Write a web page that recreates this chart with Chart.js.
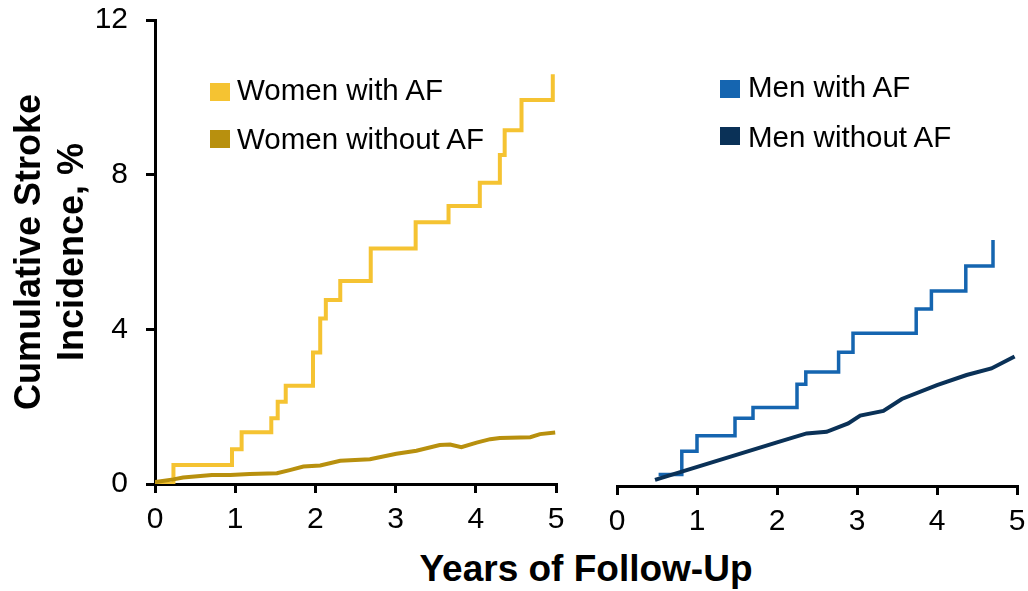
<!DOCTYPE html>
<html>
<head>
<meta charset="utf-8">
<script src="https://cdn.jsdelivr.net/npm/chart.js@4.4.1/dist/chart.umd.min.js"></script>
<style>
  body { margin: 0; background: #fff; width: 1028px; height: 591px; overflow: hidden; position: relative;
         font-family: "Liberation Sans", Arial, sans-serif; }
  #leftBox { position: absolute; left: 0; top: 0; width: 580px; height: 540px; }
  #rightBox { position: absolute; left: 580px; top: 0; width: 448px; height: 540px; }
  .leg { position: absolute; font-size: 29.5px; line-height: 1; color: #000; white-space: nowrap; }
  .sw { position: absolute; width: 20px; height: 18px; }
  #xTitle { position: absolute; left: 386px; width: 400px; top: 550px; text-align: center;
            font-weight: bold; font-size: 37px; line-height: 1; color: #000; }
</style>
</head>
<body>
<div id="leftBox"><canvas id="left"></canvas></div>
<div id="rightBox"><canvas id="right"></canvas></div>

<div class="sw" style="left:210px;top:83px;background:#F5C332"></div>
<div class="leg" style="left:237px;top:75px">Women with AF</div>
<div class="sw" style="left:210px;top:130px;background:#B8900E"></div>
<div class="leg" style="left:237px;top:124px">Women without AF</div>
<div class="sw" style="left:720px;top:80px;background:#1565B0"></div>
<div class="leg" style="left:748px;top:72px">Men with AF</div>
<div class="sw" style="left:720px;top:127px;background:#0A3157"></div>
<div class="leg" style="left:748px;top:122px">Men without AF</div>
<div id="xTitle">Years of Follow-Up</div>

<script>
// axis ticks
const xTicks = [0, 1, 2, 3, 4, 5];
const yTicks = [0, 4, 8, 12];

// women with AF (step curve: year of event, cumulative %)
const womenAfYears = [0, 0.23, 0.96, 1.08, 1.45, 1.53, 1.63, 1.97, 2.06, 2.13, 2.31, 2.69, 3.25, 3.66, 4.05, 4.30, 4.36, 4.57, 4.96];
const womenAfPct   = [0, 0.49, 0.90, 1.34, 1.70, 2.13, 2.54, 3.40, 4.28, 4.76, 5.25, 6.09, 6.77, 7.19, 7.79, 8.51, 9.15, 9.93, 10.6];

// women without AF
const womenNoAfYears = [0, 0.23, 0.35, 0.71, 0.94, 1.18, 1.52, 1.68, 1.85, 2.06, 2.31, 2.68, 3.01, 3.26, 3.55, 3.68, 3.82, 4.01, 4.18, 4.30, 4.68, 4.80, 4.99];
const womenNoAfPct   = [0.05, 0.12, 0.17, 0.23, 0.23, 0.26, 0.28, 0.36, 0.45, 0.48, 0.60, 0.64, 0.78, 0.86, 1.01, 1.02, 0.95, 1.07, 1.16, 1.19, 1.21, 1.29, 1.33];

// men with AF (step curve)
const menAfYears = [0.52, 0.81, 1.00, 1.475, 1.70, 2.25, 2.36, 2.77, 2.95, 3.74, 3.93, 4.36, 4.70];
const menAfPct   = [0.30, 0.90, 1.30, 1.75, 2.03, 2.63, 2.95, 3.46, 3.95, 4.58, 5.04, 5.69, 6.36];

// men without AF
const menNoAfYears = [0.475, 0.81, 2.0, 2.37, 2.62, 2.89, 3.04, 3.33, 3.56, 4.0, 4.37, 4.68, 4.97];
const menNoAfPct   = [0.16, 0.37, 1.13, 1.36, 1.40, 1.62, 1.82, 1.94, 2.25, 2.61, 2.87, 3.04, 3.35];

const zip = (xs, ys) => xs.map((x, i) => ({ x, y: ys[i] }));
const FONT = '"Liberation Sans", Arial, sans-serif';

function xScale(height) {
  return {
    type: 'linear',
    min: xTicks[0],
    max: xTicks[xTicks.length - 1],
    afterBuildTicks: (s) => { s.ticks = xTicks.map(v => ({ value: v })); },
    afterFit: (s) => { s.height = height; s.paddingLeft = 0; s.paddingRight = 0; },
    border: { color: '#000', width: 3 },
    grid: { drawOnChartArea: false, drawTicks: true, tickLength: 9, color: '#000', lineWidth: 3 },
    ticks: { color: '#000', font: { family: FONT, size: 30 }, padding: 9, maxRotation: 0 },
  };
}

function yRange() {
  return {
    min: yTicks[0],
    max: yTicks[yTicks.length - 1],
    afterBuildTicks: (s) => { s.ticks = yTicks.map(v => ({ value: v })); },
  };
}

const line = (data, color, stepped, width) => ({
  data, borderColor: color, backgroundColor: color, borderWidth: width,
  stepped, tension: 0, pointRadius: 0, fill: false,
});

new Chart(document.getElementById('left'), {
  type: 'line',
  data: {
    datasets: [
      line(zip(womenNoAfYears, womenNoAfPct), '#B8900E', false, 4),
      line(zip(womenAfYears, womenAfPct), '#F5C332', 'before', 4),
    ],
  },
  options: {
    responsive: true,
    maintainAspectRatio: false,
    animation: false,
    layout: { padding: { left: 0, right: 24, top: 20, bottom: 0 } },
    plugins: { legend: { display: false }, tooltip: { enabled: false } },
    scales: {
      x: xScale(56),
      y: {
        ...yRange(),
        afterFit: (s) => { s.width = 155; s.paddingTop = 0; s.paddingBottom = 0; },
        border: { color: '#000', width: 3 },
        grid: { drawOnChartArea: false, drawTicks: true, tickLength: 9, color: '#000', lineWidth: 3 },
        ticks: { color: '#000', font: { family: FONT, size: 30 }, padding: 18 },
        title: {
          display: true,
          text: ['Cumulative Stroke', 'Incidence, %'],
          color: '#000',
          font: { family: FONT, size: 36, weight: 'bold', lineHeight: 1.2 },
          padding: { top: 8, bottom: 0 },
        },
      },
    },
  },
});

new Chart(document.getElementById('right'), {
  type: 'line',
  data: {
    datasets: [
      line(zip(menNoAfYears, menNoAfPct), '#0A3157', false, 4),
      line(zip(menAfYears, menAfPct), '#1565B0', 'before', 3.5),
    ],
  },
  options: {
    responsive: true,
    maintainAspectRatio: false,
    animation: false,
    layout: { padding: { left: 37, right: 11, top: 22, bottom: 0 } },
    plugins: { legend: { display: false }, tooltip: { enabled: false } },
    scales: {
      x: xScale(54),
      y: { ...yRange(), display: false },
    },
  },
});
</script>
</body>
</html>
